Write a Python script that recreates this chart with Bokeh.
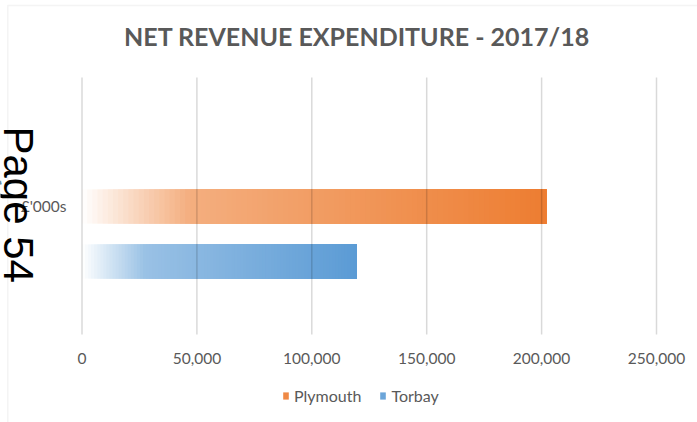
import numpy as np
from bokeh.plotting import figure
from bokeh.models import Range1d, Label, Legend, LegendItem, ColumnDataSource, BoxAnnotation
from bokeh.core.properties import value
from bokeh.embed import file_html
from bokeh.resources import INLINE

# ---- data ----
title_text = "NET REVENUE EXPENDITURE - 2017/18"
category = "£'000s"
series_names = ["Plymouth", "Torbay"]
series_values = [202000, 119500]
series_colors = ["#ED7D31", "#5B9BD5"]
x_ticks = [0, 50000, 100000, 150000, 200000, 250000]
page_note = "Page 54"

# ---- layout / style ----
W, H = 697, 422
PX_LEFT, PX_RIGHT = 81.5, 656.0      # plot area (px) for 0 .. 250000
X_MIN, X_MAX = 0, 250000
CAT_PX = 206.0                       # px of category centre (first series)
UNIT_PX = 55.0                       # px per series slot
PLOT_TOP_PX, PLOT_BOT_PX = 77.0, 334.0
series_offsets = [0.0, -1.0]
bar_half = 0.31
N_SEG = 90
TEXT_COL = "#595959"

ppu = (PX_RIGHT - PX_LEFT) / (X_MAX - X_MIN)
x_start = X_MIN - PX_LEFT / ppu
x_end = X_MAX + (W - PX_RIGHT) / ppu
y_top = CAT_PX / UNIT_PX
y_bot = -(H - CAT_PX) / UNIT_PX


def ypx(px):
    return (CAT_PX - px) / UNIT_PX


def xpx(px):
    return X_MIN + (px - PX_LEFT) / ppu


p = figure(width=W, height=H, output_backend="svg", toolbar_location=None,
           x_range=Range1d(x_start, x_end), y_range=Range1d(y_bot, y_top),
           x_axis_type=None, y_axis_type=None,
           min_border=0, outline_line_color=None)
p.background_fill_color = "white"
p.border_fill_color = "white"
p.xgrid.visible = False
p.ygrid.visible = False

# outer chart border (only top and left edges are visible in the crop)
p.add_layout(BoxAnnotation(left=7.3, right=W + 50, top=H - 5, bottom=-50,
                           left_units="screen", right_units="screen",
                           top_units="screen", bottom_units="screen",
                           fill_alpha=0, line_color="#D9D9D9", line_width=1.5))


def fade(f):
    return np.where(f < 0.23, 0.62 * f / 0.23, 0.62 + 0.38 * (f - 0.23) / 0.77)


renderers = []
for name, v, col, off in zip(series_names, series_values, series_colors, series_offsets):
    idx = np.arange(N_SEG)
    fr = (idx + 0.5) / N_SEG
    a = fade(fr)
    rgb = np.array([int(col[i:i + 2], 16) for i in (1, 3, 5)], dtype=float)
    cols = []
    for ai in a:
        c = 255 - ai * (255 - rgb)
        cols.append("#%02x%02x%02x" % tuple(int(round(x)) for x in c))
    src = ColumnDataSource(dict(
        left=v * idx / N_SEG,
        right=np.full(N_SEG, float(v)),
        bottom=np.full(N_SEG, off - bar_half),
        top=np.full(N_SEG, off + bar_half),
        color=cols,
    ))
    r = p.quad(left="left", right="right", bottom="bottom", top="top",
               fill_color="color", line_color=None, source=src)
    renderers.append(r)

# vertical gridlines (on top, translucent so they show through the bars)
n_t = len(x_ticks)
p.segment(x0=x_ticks, x1=x_ticks, y0=[ypx(PLOT_BOT_PX)] * n_t, y1=[ypx(PLOT_TOP_PX)] * n_t,
          line_color="black", line_alpha=0.15, line_width=1.5)

# x tick labels
tick_labels = ["{:,}".format(t) for t in x_ticks]
p.text(x=x_ticks, y=[ypx(358)] * n_t, text=tick_labels,
       text_font=value("Lato"), text_font_size="15.5px", text_color=TEXT_COL,
       text_align="center", text_baseline="alphabetic")

# category label
p.text(x=[xpx(66)], y=[ypx(205.5)], text=[category],
       text_font=value("Lato"), text_font_size="15.5px", text_color=TEXT_COL,
       text_align="right", text_baseline="alphabetic")

# legend
legend = Legend(
    items=[LegendItem(label=n, renderers=[r], index=int(N_SEG * 0.8))
           for n, r in zip(series_names, renderers)],
    location=(282, H - 404.5), orientation="horizontal",
    glyph_width=7, glyph_height=9, label_standoff=5, spacing=18,
    padding=0, margin=0, border_line_color=None, background_fill_alpha=0,
    label_text_font="Lato", label_text_font_size="16px",
    label_text_color=TEXT_COL, label_height=16,
)
p.add_layout(legend)

# title
p.add_layout(Label(x=356.5, y=H - 35, x_units="screen", y_units="screen",
                   text=title_text, text_font="Lato", text_font_style="bold",
                   text_font_size="25px", text_color=TEXT_COL,
                   text_align="center", text_baseline="alphabetic"))

# page note (rotated, reads top to bottom)
p.add_layout(Label(x=18.3, y=H - 126, x_units="screen", y_units="screen",
                   text=page_note, text_font="Liberation Sans",
                   text_font_size="42px", text_color="black", angle=-np.pi / 2,
                   text_align="left", text_baseline="alphabetic"))

open("out.html", "w").write(file_html(p, INLINE))
